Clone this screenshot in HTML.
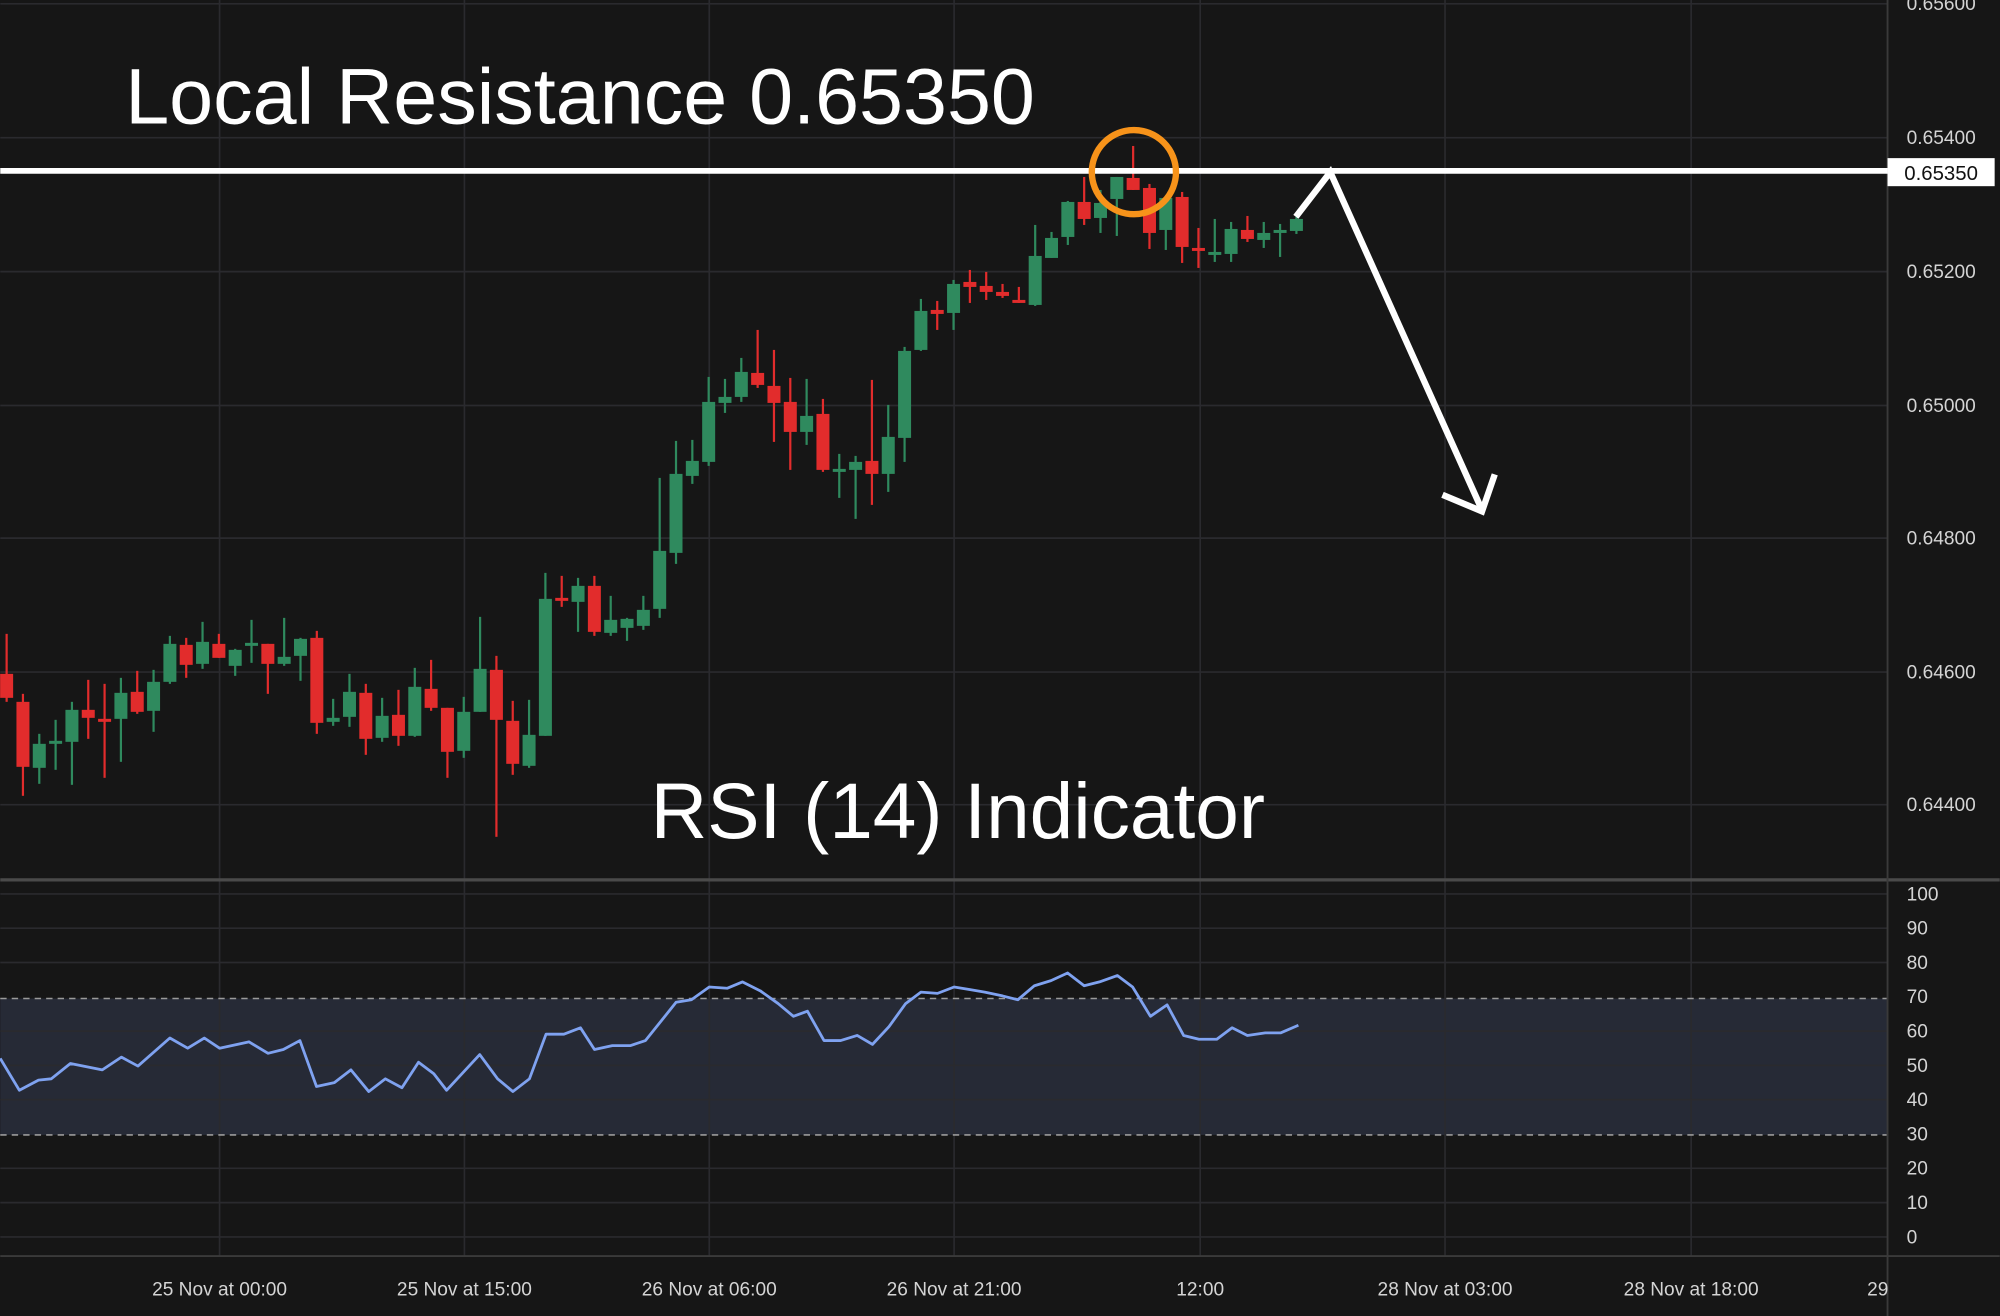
<!DOCTYPE html>
<html><head><meta charset="utf-8">
<style>
html,body{margin:0;padding:0;background:#161616;}
svg{display:block;}
text{font-family:"Liberation Sans",sans-serif;}
</style></head>
<body>
<svg id="s" width="2000" height="1316" viewBox="0 0 1568 1032" xmlns="http://www.w3.org/2000/svg">
<rect width="1568" height="1032" fill="#161616"/>
<rect x="0" y="783" width="1480" height="107" fill="#262a36"/>
<g id="grid" stroke="#2a2a2e" stroke-width="1.3"></g>
<line x1="0" y1="783" x2="1480" y2="783" stroke="#9a9a9a" stroke-width="1.2" stroke-dasharray="5,4"/>
<line x1="0" y1="890" x2="1480" y2="890" stroke="#9a9a9a" stroke-width="1.2" stroke-dasharray="5,4"/>
<line x1="0" y1="690" x2="1568" y2="690" stroke="#4a4a4a" stroke-width="2.5"/>
<line x1="1480" y1="0" x2="1480" y2="1032" stroke="#3a3a3a" stroke-width="1.5"/>
<line x1="0" y1="985" x2="1568" y2="985" stroke="#3a3a3a" stroke-width="1.5"/>
<g id="candles" transform="scale(0.78402)"></g>
<polyline id="rsi" fill="none" stroke="#7fa2f0" stroke-width="2.2" stroke-linejoin="round"/>
<g id="labels" fill="#d4d4d4" font-size="15"></g>
<line x1="0" y1="134" x2="1480" y2="134" stroke="#fff" stroke-width="4.5"/>
<rect x="1480" y="124" width="84" height="22" fill="#fff"/>
<text x="1522" y="141" font-size="16" fill="#111" text-anchor="middle">0.65350</text>
<circle cx="889" cy="135" r="33" fill="none" stroke="#f7931a" stroke-width="5"/>
<polyline points="1016,170 1043,135 1162,400" fill="none" stroke="#fff" stroke-width="5" stroke-linejoin="miter"/>
<polyline points="1131,388 1162,401 1172,372" fill="none" stroke="#fff" stroke-width="5"/>
<text x="98" y="97" font-size="62" fill="#fff">Local Resistance 0.65350</text>
<text x="510" y="657" font-size="61.5" fill="#fff">RSI (14) Indicator</text>
</svg>
<script>
var NS="http://www.w3.org/2000/svg";
function el(p,t,a,txt){var e=document.createElementNS(NS,t);for(var k in a)e.setAttribute(k,a[k]);if(txt!==undefined)e.textContent=txt;p.appendChild(e);return e;}
var g=document.getElementById('grid');
[172,364,556,748,941,1133,1326].forEach(function(x){el(g,'line',{x1:x,y1:0,x2:x,y2:985});});
[3,108,213,318,422,527,631].forEach(function(y){el(g,'line',{x1:0,y1:y,x2:1480,y2:y});});
for(var v=0;v<=100;v+=10){var y=970-v*2.69;if(v!=30&&v!=70)el(g,'line',{x1:0,y1:y,x2:1480,y2:y});}
var L=document.getElementById('labels');
var pl=[["0.65600",3],["0.65400",108],["0.65200",213],["0.65000",318],["0.64800",422],["0.64600",527],["0.64400",631]];
pl.forEach(function(p){el(L,'text',{x:1495,y:p[1]+5},p[0]);});
for(var v=0;v<=100;v+=10){el(L,'text',{x:1495,y:970-v*2.69+5},String(v));}
var tl=[["25 Nov at 00:00",172],["25 Nov at 15:00",364],["26 Nov at 06:00",556],["26 Nov at 21:00",748],["12:00",941],["28 Nov at 03:00",1133],["28 Nov at 18:00",1326]];
tl.forEach(function(t){el(L,'text',{x:t[1],y:1016,'text-anchor':'middle'},t[0]);});
el(L,'text',{x:1464,y:1016},"29");
el(L,'rect',{x:1481,y:995,width:87,height:37,fill:'#161616'});
var C=[
['r',674,698,634,702],['r',702,767,694,796],['g',744,768,734,784],['g',741,744,720,770],['g',710,742,702,785],
['r',710,718,680,739],['r',719,722,684,778],['g',693,719,678,762],['r',692,712,671,714],['g',682,711,670,732],
['g',644,682,636,684],['r',645,665,638,678],['g',642,664,622,669],['r',644,658,634,658],['g',650,666,649,676],
['g',643,646,620,663],['r',644,664,644,694],['g',657,664,618,666],['g',639,656,638,681],['r',638,723,631,734],
['g',718,722,699,726],['g',692,717,674,727],['r',693,739,684,755],['g',716,738,698,742],['r',715,736,690,746],
['g',687,736,668,737],['r',689,708,660,711],['r',708,752,708,778],['g',712,751,697,758],['g',669,712,617,712],
['r',670,720,656,837],['r',721,764,701,775],['g',735,766,700,768],['g',599,736,573,736],['r',598,600,576,607],
['g',586,602,578,632],['r',586,632,576,636],['g',620,633,596,636],['g',619,628,618,641],['g',610,626,596,630],
['g',551,609,478,618],['g',474,553,441,564],['g',461,476,440,484],['g',402,462,377,466],['g',397,403,379,413],
['g',372,397,358,402],['r',373,385,330,388],['r',386,403,350,442],['r',402,432,378,470],['g',416,432,379,445],
['r',414,470,399,472],['g',469,471,454,498],['g',462,470,456,519],['r',461,474,380,505],['g',437,474,405,492],
['g',351,438,347,462],['g',311,350,299,351],['r',310,314,301,330],['g',284,313,280,330],['r',282,287,270,303],
['r',286,292,272,300],['r',292,296,284,298],['r',300,302,287,303],['g',256,305,225,306],['g',238,258,232,258],
['g',202,237,201,245],['r',202,219,177,225],['g',203,218,190,233],['g',177,199,177,236],['r',178,190,146,190],
['r',188,233,184,249],['g',198,230,198,250],['r',197,247,192,263],['r',248,251,228,268],['g',252,254,219,262],
['g',229,254,222,262],['r',230,239,216,242],['g',233,240,222,248],['g',230,232,224,257],['g',219,231,217,234]];
var cg=document.getElementById('candles');
C.forEach(function(c,i){var x=6.38+16.33*i;var col=c[0]=='g'?'#2f8a5e':'#e22c2c';
el(cg,'rect',{x:x-1.1,y:c[3],width:2.2,height:c[4]-c[3],fill:col});
var h=Math.max(c[2]-c[1],3);el(cg,'rect',{x:x-6.5,y:c[1],width:13,height:h,fill:col});});
var R=[[0,830],[15,855],[30,847],[40,846],[55,834],[80,839],[95,829],[108,836],[133,814],[147,822],[160,814],[172,822],[195,817],[210,826],[222,823],[235,816],[248,852],[262,849],[275,839],[289,856],[302,846],[315,853],[328,833],[340,842],[350,855],[376,827],[390,846],[402,856],[415,846],[428,811],[442,811],[455,806],[466,823],[480,820],[494,820],[506,816],[530,786],[542,784],[556,774],[570,775],[582,770],[596,777],[610,787],[622,797],[633,793],[646,816],[659,816],[672,812],[684,819],[697,805],[710,787],[722,778],[735,779],[748,774],[760,776],[772,778],[786,781],[798,784],[811,773],[824,769],[837,763],[850,773],[862,770],[876,765],[888,774],[902,797],[915,788],[928,812],[940,815],[954,815],[966,806],[978,812],[992,810],[1004,810],[1018,804]];
document.getElementById('rsi').setAttribute('points',R.map(function(p){return p.join(',');}).join(' '));
</script>
</body></html>
